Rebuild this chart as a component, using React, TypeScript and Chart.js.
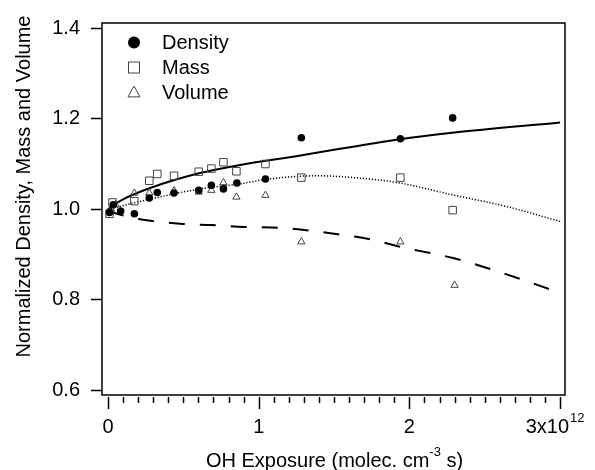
import React, { useEffect, useRef } from "react";
import { Chart, registerables } from "chart.js";

Chart.register(...registerables);

// OH exposure in units of 1e12 molec cm^-3 s
const densityX = [0.01, 0.035, 0.084, 0.175, 0.274, 0.327, 0.438, 0.602, 0.686, 0.766, 0.855, 1.045, 1.283, 1.94, 2.287];
const densityY = [0.993, 1.01, 0.996, 0.99, 1.025, 1.037, 1.036, 1.042, 1.053, 1.045, 1.058, 1.067, 1.158, 1.156, 1.202];

const massX = [0.01, 0.03, 0.175, 0.274, 0.327, 0.438, 0.602, 0.686, 0.766, 0.852, 1.045, 1.283, 1.94, 2.287];
const massY = [0.99, 1.015, 1.018, 1.063, 1.078, 1.074, 1.083, 1.09, 1.104, 1.084, 1.1, 1.07, 1.07, 0.998];

const volumeX = [0.02, 0.05, 0.175, 0.274, 0.438, 0.602, 0.686, 0.766, 0.852, 1.045, 1.283, 1.94, 2.3];
const volumeY = [1.0, 1.01, 1.036, 1.036, 1.041, 1.038, 1.042, 1.059, 1.027, 1.031, 0.928, 0.928, 0.832];

// fit curves
const densityFitX = [0.0, 0.025, 0.1, 0.28, 0.61, 0.876, 1.278, 1.937, 2.284, 3.0];
const densityFitY = [1.0, 1.007, 1.022, 1.047, 1.08, 1.098, 1.119, 1.155, 1.169, 1.192];

const massFitX = [0.0, 0.274, 0.61, 0.876, 1.046, 1.385, 1.76, 1.937, 2.284, 2.645, 3.0];
const massFitY = [1.0, 1.022, 1.045, 1.056, 1.066, 1.074, 1.066, 1.058, 1.032, 1.006, 0.973];

const volumeFitX = [0.0, 0.212, 0.478, 0.688, 0.898, 1.141, 1.33, 1.76, 1.937, 2.29, 2.645, 3.0];
const volumeFitY = [0.995, 0.978, 0.968, 0.965, 0.961, 0.959, 0.953, 0.932, 0.917, 0.892, 0.856, 0.815];

const yTicks = [0.6, 0.8, 1.0, 1.2, 1.4];
const xMajorTicks = [0, 1, 2, 3];
const xMinorStep = 0.1;

const legendLabels = ["Density", "Mass", "Volume"];
const yTitle = "Normalized Density, Mass and Volume";

const FONT = '"Liberation Sans", Arial, sans-serif';
const FS = 20;
const SUP = 13;

const pts = (xs: number[], ys: number[]) => xs.map((x, i) => ({ x, y: ys[i] }));

function drawCircle(ctx: CanvasRenderingContext2D, x: number, y: number, r: number) {
  ctx.beginPath();
  ctx.arc(x, y, r, 0, Math.PI * 2);
  ctx.fillStyle = "#000";
  ctx.fill();
}
function drawSquare(ctx: CanvasRenderingContext2D, x: number, y: number, s: number) {
  ctx.strokeStyle = "#444";
  ctx.lineWidth = 1;
  ctx.strokeRect(x - s / 2, y - s / 2, s, s);
}
function drawTri(ctx: CanvasRenderingContext2D, x: number, y: number, w: number) {
  const h = w * 0.9;
  ctx.beginPath();
  ctx.moveTo(x, y - h / 2);
  ctx.lineTo(x + w / 2, y + h / 2);
  ctx.lineTo(x - w / 2, y + h / 2);
  ctx.closePath();
  ctx.strokeStyle = "#444";
  ctx.lineWidth = 1;
  ctx.stroke();
}

const overlay = {
  id: "overlay",
  afterDraw(chart: any) {
    const { ctx, chartArea, scales } = chart;
    const { left, right, top, bottom } = chartArea;
    const xs = scales.x;
    ctx.save();
    // frame
    ctx.strokeStyle = "#000";
    ctx.lineWidth = 1.5;
    ctx.strokeRect(left, top, right - left, bottom - top);

    // x ticks (offset below frame)
    ctx.lineWidth = 1.5;
    const nMinor = Math.round(3 / xMinorStep);
    for (let i = 0; i <= nMinor; i++) {
      const v = i * xMinorStep;
      const px = Math.round(xs.getPixelForValue(v)) + 0.5;
      const major = i % 10 === 0;
      ctx.beginPath();
      ctx.moveTo(px, bottom + 2);
      ctx.lineTo(px, bottom + (major ? 14 : 8));
      ctx.stroke();
    }
    ctx.fillStyle = "#000";
    ctx.font = `${FS}px ${FONT}`;
    ctx.textBaseline = "alphabetic";
    xMajorTicks.forEach((v) => {
      const px = xs.getPixelForValue(v);
      if (v === 3) {
        ctx.textAlign = "right";
        ctx.fillText("3x10", px + 9, bottom + 38);
        ctx.textAlign = "left";
        ctx.font = `${SUP}px ${FONT}`;
        ctx.fillText("12", px + 10, bottom + 27);
        ctx.font = `${FS}px ${FONT}`;
      } else {
        ctx.textAlign = "center";
        ctx.fillText(String(v), px, bottom + 38);
      }
    });

    // x title with superscript
    const p1 = "OH Exposure (molec. cm";
    const sup = "-3";
    const p2 = " s)";
    ctx.font = `${FS}px ${FONT}`;
    const w1 = ctx.measureText(p1).width;
    const w3 = ctx.measureText(p2).width;
    ctx.font = `${SUP}px ${FONT}`;
    const w2 = ctx.measureText(sup).width;
    const total = w1 + w2 + w3;
    const cx = (left + right) / 2 + 1;
    const sx = cx - total / 2;
    const base = 467;
    ctx.textAlign = "left";
    ctx.font = `${FS}px ${FONT}`;
    ctx.fillText(p1, sx, base);
    ctx.font = `${SUP}px ${FONT}`;
    ctx.fillText(sup, sx + w1, base - 11);
    ctx.font = `${FS}px ${FONT}`;
    ctx.fillText(p2, sx + w1 + w2, base);

    // y title
    ctx.save();
    ctx.translate(29.5, 186.5);
    ctx.rotate(-Math.PI / 2);
    ctx.textAlign = "center";
    ctx.font = `${FS}px ${FONT}`;
    ctx.fillText(yTitle, 0, 0);
    ctx.restore();

    // legend
    const lx = 134;
    const tx = 162;
    const rows = [42.5, 67.5, 91.5];
    drawCircle(ctx, lx, rows[0], 6);
    drawSquare(ctx, lx, rows[1], 11);
    drawTri(ctx, lx, rows[2], 12);
    ctx.fillStyle = "#000";
    ctx.font = `${FS}px ${FONT}`;
    ctx.textAlign = "left";
    const baselines = [48.5, 73.5, 98.5];
    legendLabels.forEach((t, i) => ctx.fillText(t, tx, baselines[i]));
    ctx.restore();
  },
};

export default function App() {
  const ref = useRef<HTMLCanvasElement | null>(null);
  useEffect(() => {
    if (!ref.current) return;
    const chart = new Chart(ref.current, {
      type: "scatter",
      data: {
        datasets: [
          {
            label: "Density fit",
            data: pts(densityFitX, densityFitY),
            showLine: true,
            borderColor: "#000",
            borderWidth: 2,
            pointRadius: 0,
            cubicInterpolationMode: "monotone",
            order: 2,
          },
          {
            label: "Mass fit",
            data: pts(massFitX, massFitY),
            showLine: true,
            borderColor: "#000",
            borderWidth: 1.5,
            borderDash: [1.2, 1.8],
            pointRadius: 0,
            cubicInterpolationMode: "monotone",
            order: 2,
          },
          {
            label: "Volume fit",
            data: pts(volumeFitX, volumeFitY),
            showLine: true,
            borderColor: "#000",
            borderWidth: 2,
            borderDash: [16, 15],
            pointRadius: 0,
            cubicInterpolationMode: "monotone",
            order: 2,
          },
          {
            label: "Density",
            data: pts(densityX, densityY),
            pointStyle: "circle",
            pointRadius: 3.8,
            backgroundColor: "#000",
            borderColor: "#000",
            borderWidth: 0,
            order: 1,
          },
          {
            label: "Mass",
            data: pts(massX, massY),
            pointStyle: "rect",
            pointRadius: 5.3,
            backgroundColor: "rgba(255,255,255,0)",
            borderColor: "#444",
            borderWidth: 1,
            order: 1,
          },
          {
            label: "Volume",
            data: pts(volumeX, volumeY),
            pointStyle: "triangle",
            pointRadius: 4.2,
            backgroundColor: "rgba(255,255,255,0)",
            borderColor: "#444",
            borderWidth: 1,
            order: 1,
          },
        ],
      },
      options: {
        animation: false,
        responsive: false,
        events: [],
        layout: { padding: { left: 0, top: 14.5, right: 30, bottom: 75 } },
        plugins: { legend: { display: false }, tooltip: { enabled: false } },
        scales: {
          x: {
            type: "linear",
            min: -0.0398,
            max: 3.0325,
            display: false,
          },
          y: {
            type: "linear",
            min: 0.5892,
            max: 1.4119,
            afterBuildTicks: (scale: any) => {
              scale.ticks = yTicks.map((v) => ({ value: v }));
            },
            afterFit: (scale: any) => {
              scale.width = 102;
            },
            grid: {
              drawOnChartArea: false,
              drawTicks: true,
              tickLength: 11,
              tickWidth: 1.5,
              tickColor: "#000",
            },
            border: { display: false },
            ticks: {
              color: "#000",
              padding: 11,
              font: { family: FONT, size: FS },
              callback: (v: any) => Number(v).toFixed(1),
            },
          },
        },
      },
      plugins: [overlay],
    });
    return () => chart.destroy();
  }, []);
  return (
    <div style={{ position: "absolute", left: 0, top: 0, width: 595, height: 470, background: "#fff" }}>
      <canvas ref={ref} width={595} height={470} />
    </div>
  );
}
